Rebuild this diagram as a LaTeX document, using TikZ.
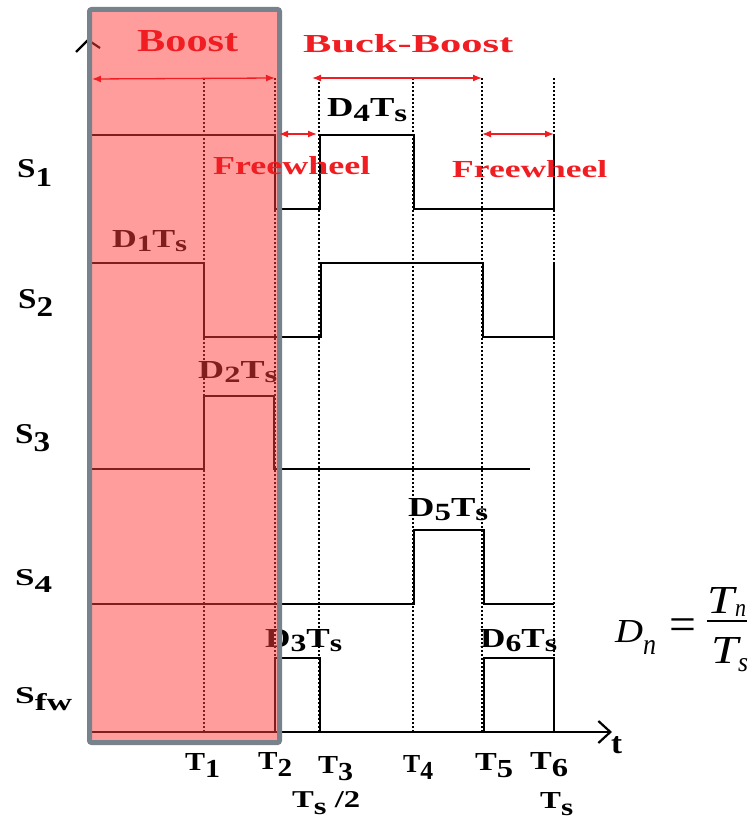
\documentclass[tikz,border=0pt]{standalone}
\usepackage{fontspec}
\setmainfont{Liberation Serif}
\usepackage{graphicx}
\usetikzlibrary{arrows.meta}
\definecolor{redlab}{RGB}{240,30,35}
\definecolor{boxfill}{RGB}{255,60,60}
\definecolor{boxedge}{RGB}{120,130,140}
\newcommand{\lo}[1]{\raisebox{-0.16em}{\fontsize{9}{9}\selectfont #1}}
\newcommand{\lw}[1]{\raisebox{-0.3em}{\fontsize{10}{10}\selectfont #1}}
\newcommand{\fitlab}[3]{\resizebox{#1pt}{#2pt}{\bfseries #3}}
\newcommand{\fitit}[3]{\resizebox{#1pt}{#2pt}{\itshape #3}}
\tikzset{
  sig/.style={line width=2.6pt, line join=miter},
  tline/.style={line width=1.3pt, dash pattern=on 2pt off 2pt},
  lbl/.style={inner sep=0pt, anchor=base west},
  redarr/.style={draw=redlab, line width=1.3pt, {Latex[length=9pt,width=7pt]}-{Latex[length=9pt,width=7pt]}},
}
\begin{document}
\begin{tikzpicture}[x=1pt,y=-1pt]
\useasboundingbox (0,0) rectangle (747,821);
% time instants
\coordinate (O) at (88,732);
\foreach \n/\x in {1/204,2/275,3/319,4/413,5/482,6/554}{
  \coordinate (top\n) at (\x,78);
  \coordinate (bot\n) at (\x,732);
  \draw[tline] (top\n) -- (bot\n);
}
% y axis
\coordinate (ytip) at (88,40);
\draw[line width=2.2pt] (O) -- (ytip);
\draw[line width=2.2pt] (76,52) -- (ytip) -- (100,48);
% signals
\draw[sig] (88,135) -- (275,135) -- (275,209) -- (320,209) -- (320,135) -- (414,135) -- (414,209) -- (554,209) -- (554,135);
\draw[sig] (88,263) -- (204,263) -- (204,337) -- (321,337) -- (321,263) -- (483,263) -- (483,337) -- (554,337) -- (554,263);
\draw[sig] (88,469) -- (204,469) -- (204,396) -- (274,396) -- (274,469) -- (530,469);
\draw[sig] (88,604) -- (414,604) -- (414,530) -- (484,530) -- (484,604) -- (554,604);
\draw[sig] (275,732) -- (275,658) -- (320,658) -- (320,732);
\draw[sig] (484,732) -- (484,658) -- (554,658) -- (554,732);
% time axis
\coordinate (ttip) at (612,732);
\draw[line width=2.8pt, -{Straight Barb[length=12pt,width=22pt,line width=2.2pt]}] (O) -- (ttip);
% duty labels
\node[lbl] (d4) at (327,117) {\fitlab{80}{18}{D\lo{4}T\lo{s}}};
\node[lbl] (d1) at (112,247) {\fitlab{75}{17}{D\lo{1}T\lo{s}}};
\node[lbl] (d2) at (198,378) {\fitlab{79}{17}{D\lo{2}T\lo{s}}};
\node[lbl] (d5) at (408,516) {\fitlab{80}{18}{D\lo{5}T\lo{s}}};
\node[lbl] (d3) at (265,647) {\fitlab{77}{18}{D\lo{3}T\lo{s}}};
\node[lbl] (d6) at (480,647) {\fitlab{77}{18}{D\lo{6}T\lo{s}}};
% time labels
\node[lbl] (t1) at (185,770) {\fitlab{35}{17}{T\lw{1}}};
\node[lbl] (t2) at (258,769) {\fitlab{34}{17}{T\lw{2}}};
\node[lbl] (t3) at (318,773) {\fitlab{35}{17}{T\lw{3}}};
\node[lbl] (t4) at (403,772) {\fitlab{30}{17}{T\lw{4}}};
\node[lbl] (t5) at (475,770) {\fitlab{38}{17}{T\lw{5}}};
\node[lbl] (t6) at (530,769) {\fitlab{38}{17}{T\lw{6}}};
\node[lbl] (tsh) at (292,807) {\fitlab{68}{16}{T\lw{s} /2}};
\node[lbl] (ts) at (540,808) {\fitlab{33}{16}{T\lw{s}}};
\node[lbl] (tax) at (611,753) {\fitlab{11}{17}{t}};
% signal names
\node[lbl] (s1) at (17,178) {\fitlab{35}{18}{S\lw{1}}};
\node[lbl] (s2) at (18,308) {\fitlab{35}{19}{S\lw{2}}};
\node[lbl] (s3) at (15,443) {\fitlab{35}{19}{S\lw{3}}};
\node[lbl] (s4) at (15,585) {\fitlab{37}{16}{S\lw{4}}};
\node[lbl] (sfw) at (15,703) {\fitlab{57}{16}{S\lw{fw}}};
% boost region box
\draw[line width=5pt, draw=boxedge, fill=boxfill, fill opacity=0.5, rounded corners=2pt] (89.5,9.5) rectangle (279.5,742.5);
% red annotations
\draw[redarr] (92,79) -- (top2);
\draw[redarr] (312,78) -- (top5);
\coordinate (fwa) at (279,134);
\coordinate (fwb) at (317,134);
\draw[redarr] (fwa) -- (fwb);
\coordinate (fwc) at (482,134);
\coordinate (fwd) at (554,134);
\draw[redarr] (fwc) -- (fwd);
\node[lbl, text=redlab] (boost) at (137,52) {\fitlab{101}{21}{Boost}};
\node[lbl, text=redlab] (bb) at (303,53) {\fitlab{210}{18}{Buck-Boost}};
\node[lbl, text=redlab] (fw1) at (213,175) {\fitlab{157}{18}{Freewheel}};
\node[lbl, text=redlab] (fw2) at (452,178) {\fitlab{155}{17}{Freewheel}};
% formula
\node[lbl] (fD) at (615,642) {\fitit{28}{22}{D}};
\node[lbl] (fn) at (643,654) {\fitit{13}{14}{n}};
\node[inner sep=0pt] (feq) at (683,630) {\scalebox{1.4}{\fontsize{34}{36}\selectfont =}};
\coordinate (barl) at (707,621);
\coordinate (barr) at (747,621);
\draw[line width=1.4pt] (barl) -- (barr);
\node[lbl] (fT1) at (707,613) {\fitit{27}{26}{T}};
\node[lbl] (fn2) at (735,616) {\fitit{11}{12}{n}};
\node[lbl] (fT2) at (711,663) {\fitit{27}{26}{T}};
\node[lbl] (fs) at (738,671) {\fitit{10}{13}{s}};
\end{tikzpicture}
\end{document}
